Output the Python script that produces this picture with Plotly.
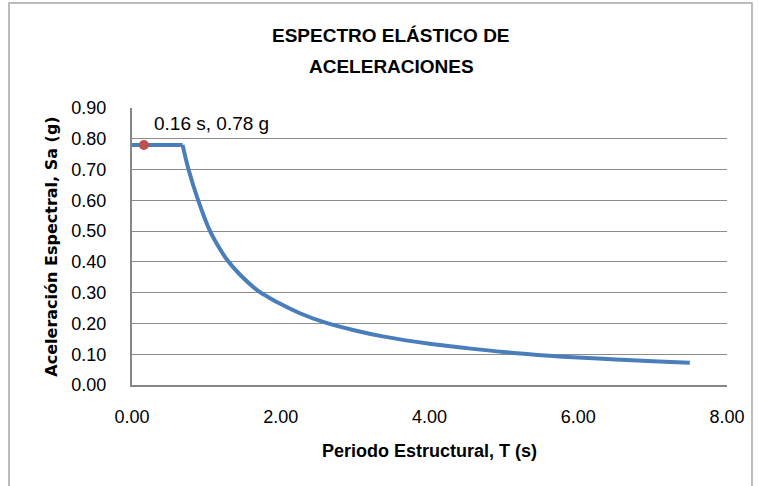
import plotly.graph_objects as go

# Data
periodo = [0.0, 0.16, 0.68, 0.76, 0.89, 1.04, 1.15, 1.28, 1.45, 1.70, 1.85, 2.0, 2.25, 2.58, 3.0, 3.37, 4.0, 4.49, 5.0, 5.61, 6.0, 6.5, 7.0, 7.5]
sa = [0.78, 0.78, 0.78, 0.70, 0.60, 0.505, 0.455, 0.406, 0.359, 0.305, 0.283, 0.263, 0.234, 0.204, 0.177, 0.158, 0.134, 0.120, 0.107, 0.095, 0.089, 0.083, 0.077, 0.072]
punto_t = [0.16]
punto_sa = [0.78]
punto_label = "0.16 s, 0.78 g"
titulo = ["ESPECTRO ELÁSTICO DE", "ACELERACIONES"]
x_ticks = [0, 2, 4, 6, 8]
y_ticks = [0.0, 0.1, 0.2, 0.3, 0.4, 0.5, 0.6, 0.7, 0.8, 0.9]

FONT = "Liberation Sans, Arial, sans-serif"
LINE = "#4A7EBB"
k = 3  # plateau points; the descending branch starts at index k-1

fig = go.Figure()
fig.add_trace(go.Scatter(x=periodo[:k], y=sa[:k], mode="lines",
                         line=dict(color=LINE, width=4),
                         showlegend=False, hoverinfo="skip"))
fig.add_trace(go.Scatter(x=periodo[k - 1:], y=sa[k - 1:], mode="lines",
                         line=dict(color=LINE, width=4, shape="spline", smoothing=1.0),
                         showlegend=False, hoverinfo="skip"))
fig.add_trace(go.Scatter(x=punto_t, y=punto_sa, mode="markers",
                         marker=dict(color="#C0504D", size=10),
                         showlegend=False))
fig.add_annotation(x=punto_t[0], y=punto_sa[0], text=punto_label, showarrow=False,
                   xanchor="left", yanchor="middle", xshift=8, yshift=21,
                   font=dict(family=FONT, size=19, color="#000000"))
fig.add_annotation(xref="paper", yref="paper", x=0.4356, y=1.26, text="<b>" + titulo[0] + "</b>",
                   showarrow=False, xanchor="center", yanchor="middle",
                   font=dict(family=FONT, size=19, color="#000000"))
fig.add_annotation(xref="paper", yref="paper", x=0.4356, y=1.1516, text="<b>" + titulo[1] + "</b>",
                   showarrow=False, xanchor="center", yanchor="middle",
                   font=dict(family=FONT, size=19, color="#000000"))

fig.update_layout(
    width=759, height=486,
    paper_bgcolor="white", plot_bgcolor="white",
    margin=dict(l=132, r=32, t=108, b=101),
    font=dict(family=FONT, size=18, color="#000000"),
    shapes=[dict(type="rect", xref="paper", yref="paper",
                 x0=-0.2067, x1=1.042, y0=-0.40, y1=1.379,
                 line=dict(color="#A6A6A6", width=1.5), fillcolor="rgba(0,0,0,0)", layer="below")],
)
fig.update_xaxes(range=[0, 8], tickvals=x_ticks, tickformat=".2f",
                 showgrid=False, zeroline=False, showline=True,
                 linecolor="#868686", linewidth=2, ticks="", ticklabelstandoff=14,
                 tickfont=dict(family=FONT, size=18),
                 title=dict(text="<b>Periodo Estructural, T (s)</b>", standoff=19,
                            font=dict(family=FONT, size=18)))
fig.update_yaxes(range=[0, 0.9], tickvals=y_ticks, tickformat=".2f",
                 showgrid=True, gridcolor="#8C8C8C", gridwidth=1, zeroline=False,
                 showline=True, linecolor="#868686", linewidth=2, ticks="",
                 ticklabelstandoff=20,
                 tickfont=dict(family=FONT, size=18),
                 title=dict(text="<b>Aceleración Espectral, Sa (g)</b>", standoff=10,
                            font=dict(family="DejaVu Sans", size=16)))

fig.write_html("out.html", config={"displayModeBar": False},
               post_script="document.body.style.margin='0';")
